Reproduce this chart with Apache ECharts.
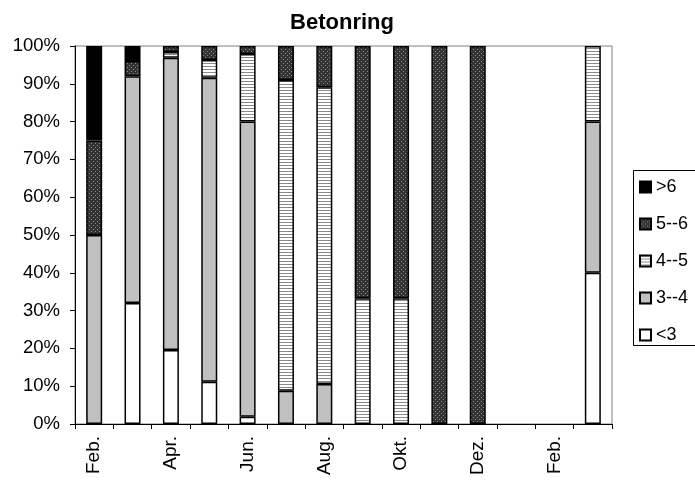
<!DOCTYPE html>
<html>
<head>
<meta charset="utf-8">
<script src="https://cdn.jsdelivr.net/npm/echarts@6/dist/echarts.min.js"></script>
<style>
html,body{margin:0;padding:0;background:#fff;}
#c{width:695px;height:482px;}
</style>
</head>
<body>
<div id="c"></div>
<script>
const categories = ['Feb.','Mär.','Apr.','Mai.','Jun.','Jul.','Aug.','Sep.','Okt.','Nov.','Dez.','Jan.','Feb.','Mär.'];
const yTicks = [0,10,20,30,40,50,60,70,80,90,100];
const lt3   = [0, 32, 19.6, 11.2, 1.9, 0, 0, 0, 0, 0, 0, null, null, 40];
const s3to4 = [50, 60, 77.3, 80.4, 78.1, 8.8, 10.6, 0, 0, 0, 0, null, null, 40];
const s4to5 = [0, 0, 1.5, 4.7, 17.9, 82.2, 78.5, 33.3, 33.3, 0, 0, null, null, 20];
const s5to6 = [25, 4, 1.6, 3.7, 2.1, 9, 10.9, 66.7, 66.7, 100, 100, null, null, 0];
const gt6   = [25, 4, 0, 0, 0, 0, 0, 0, 0, 0, 0, null, null, 0];

function stripes(){
  const c=document.createElement('canvas'); c.width=4; c.height=3;
  const g=c.getContext('2d'); g.fillStyle='#fff'; g.fillRect(0,0,4,3);
  g.fillStyle='#8a8a8a'; g.fillRect(0,0,4,1); return c;
}
function dots(){
  const c=document.createElement('canvas'); c.width=4; c.height=4;
  const g=c.getContext('2d'); g.fillStyle='#333'; g.fillRect(0,0,4,4);
  g.fillStyle='#8c8c8c'; g.fillRect(1,1,1,1); g.fillRect(3,3,1,1); return c;
}
const fills = {
  '<3':'#ffffff',
  '3--4':'#c0c0c0',
  '4--5':{image:stripes(),repeat:'repeat'},
  '5--6':{image:dots(),repeat:'repeat'},
  '>6':'#000000'
};
function z(a){return a.map(v=>v===0?null:v);}
function mk(name,data){
  return {name:name,type:'bar',stack:'t',data:z(data),barWidth:16,
    itemStyle:{color:fills[name],borderColor:'#000',borderWidth:1.5},
    emphasis:{disabled:true}};
}
const chart = echarts.init(document.getElementById('c'),null,{renderer:'canvas'});
chart.setOption({
  animation:false,
  backgroundColor:'#fff',
  title:{text:'Betonring',left:337,textAlign:'center',top:7,
    textStyle:{fontFamily:'Liberation Sans',fontSize:22,fontWeight:'bold',color:'#000'}},
  grid:{left:75,right:83,top:46,bottom:58,show:true,borderColor:'#808080',borderWidth:1},
  graphic:[{type:'rect',left:633,top:170,silent:true,z:-1,
    shape:{x:0,y:0,width:100,height:175},
    style:{fill:'#fff',stroke:'#000',lineWidth:1}}],
  legend:{orient:'vertical',left:633,top:170,data:['>6','5--6','4--5','3--4','<3'],
    icon:'rect',itemWidth:11,itemHeight:11,itemGap:19,padding:[8,2,1,6],
    textStyle:{fontFamily:'Liberation Sans',fontSize:18,color:'#000',lineHeight:18}},
  xAxis:{type:'category',data:categories,
    axisLine:{lineStyle:{color:'#000',width:1}},
    axisTick:{show:true,alignWithLabel:false,interval:0,length:5,lineStyle:{color:'#000'}},
    axisLabel:{interval:1,rotate:90,margin:12,fontFamily:'Liberation Sans',fontSize:19,color:'#000'}},
  yAxis:{type:'value',min:0,max:100,interval:10,
    axisLine:{show:true,lineStyle:{color:'#000'}},
    axisTick:{show:true,length:5,lineStyle:{color:'#000'}},
    splitLine:{show:false},
    axisLabel:{formatter:v=>yTicks.includes(v)?v+'%':'',margin:15,fontFamily:'Liberation Sans',fontSize:18.5,color:'#000'}},
  series:[mk('<3',lt3),mk('3--4',s3to4),mk('4--5',s4to5),mk('5--6',s5to6),mk('>6',gt6)]
});
</script>
</body>
</html>
